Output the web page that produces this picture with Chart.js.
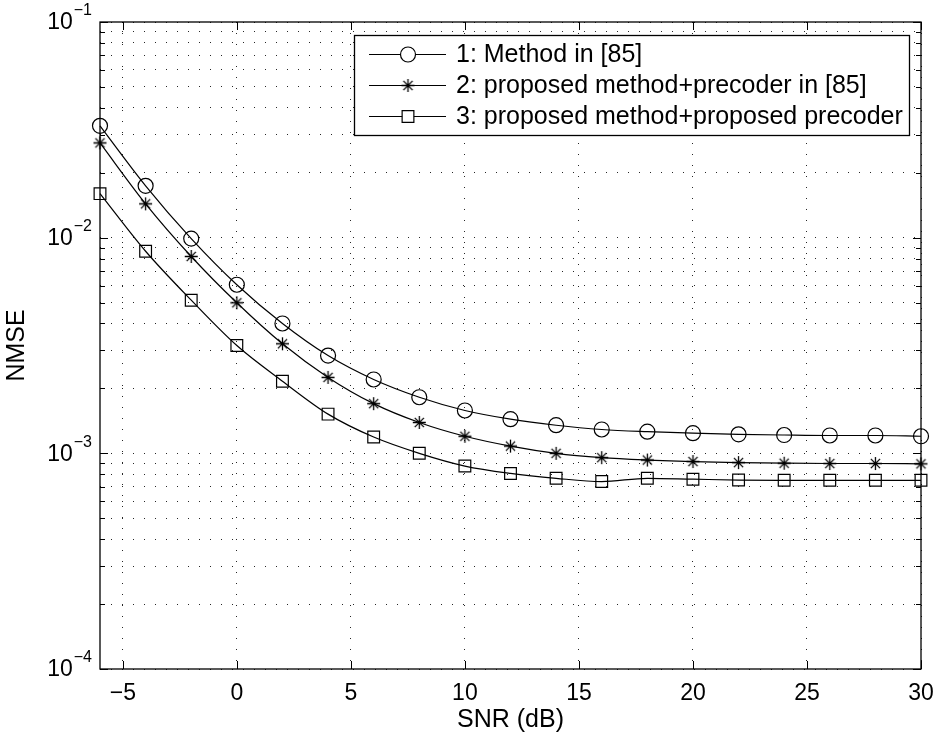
<!DOCTYPE html>
<html>
<head>
<meta charset="utf-8">
<script src="https://cdn.jsdelivr.net/npm/chart.js@4.4.1/dist/chart.umd.min.js"></script>
<style>
  body { margin: 0; background: #fff; }
  canvas { display: block; }
</style>
</head>
<body>
<canvas id="nmse-chart" width="939" height="737"></canvas>
<script>
// valores
const snr = [-6, -4, -2, 0, 2, 4, 6, 8, 10, 12, 14, 16, 18, 20, 22, 24, 26, 28, 30];
const method85 = [0.033, 0.0174, 0.0099, 0.00605, 0.0040, 0.00284, 0.0022, 0.00182, 0.00158, 0.00144,
  0.00135, 0.00129, 0.00126, 0.00124, 0.001225, 0.001216, 0.00121, 0.00121, 0.0012];
const proposedPrecoder85 = [0.0275, 0.01435, 0.00818, 0.00499, 0.00322, 0.00225, 0.0017, 0.00139, 0.0012, 0.00108,
  0.001, 0.000955, 0.000931, 0.000916, 0.000906, 0.0009, 0.000897, 0.000897, 0.000894];
const proposedProposed = [0.016, 0.00865, 0.00513, 0.00316, 0.00216, 0.00152, 0.00119, 0.001, 0.000873, 0.000807,
  0.000766, 0.00074, 0.000766, 0.000759, 0.000752, 0.00075, 0.00075, 0.00075, 0.00075];
const seriesLabels = ['1: Method in [85]', '2: proposed method+precoder in [85]', '3: proposed method+proposed precoder'];
const xTicks = [-5, 0, 5, 10, 15, 20, 25, 30];
const yDecades = [-4, -3, -2, -1];

const FONT = '"Liberation Sans", Arial, Helvetica, sans-serif';

// asterisco estilo MATLAB
function makeStar(r) {
  const c = document.createElement('canvas');
  const s = Math.ceil(r * 2 + 4);
  c.width = s; c.height = s;
  const g = c.getContext('2d');
  g.strokeStyle = '#000';
  g.lineWidth = 1.3;
  g.beginPath();
  for (let k = 0; k < 4; k++) {
    const a = k * Math.PI / 4;
    g.moveTo(s / 2 - Math.cos(a) * r, s / 2 - Math.sin(a) * r);
    g.lineTo(s / 2 + Math.cos(a) * r, s / 2 + Math.sin(a) * r);
  }
  g.stroke();
  return c;
}
const starImg = makeStar(6.5);

const markers = [
  { pointStyle: 'circle', radius: 7.5 },
  { pointStyle: starImg, radius: 7 },
  { pointStyle: 'rect', radius: 8.3 }
];

function dataset(i, values) {
  return {
    label: seriesLabels[i],
    data: snr.map((x, k) => ({ x: x, y: values[k] })),
    borderColor: '#000',
    borderWidth: 1.2,
    pointStyle: markers[i].pointStyle,
    pointRadius: markers[i].radius,
    pointBorderColor: '#000',
    pointBackgroundColor: 'rgba(0,0,0,0)',
    pointBorderWidth: 1.2,
    cubicInterpolationMode: 'monotone',
    clip: false
  };
}

const frame = {
  id: 'frame',
  afterDraw(chart) {
    const ctx = chart.ctx;
    const a = chart.chartArea;
    const xs = chart.scales.x, ys = chart.scales.y;
    ctx.save();
    ctx.strokeStyle = '#000';
    ctx.lineWidth = 1.3;
    ctx.strokeRect(a.left, a.top, a.right - a.left, a.bottom - a.top);

    // marcas para dentro
    ctx.lineWidth = 1;
    ctx.beginPath();
    xTicks.forEach(v => {
      const px = Math.round(xs.getPixelForValue(v)) + 0.5;
      ctx.moveTo(px, a.bottom); ctx.lineTo(px, a.bottom - 8);
      ctx.moveTo(px, a.top); ctx.lineTo(px, a.top + 8);
    });
    yDecades.forEach(e => {
      for (let m = 1; m <= 9; m++) {
        const v = m * Math.pow(10, e);
        if (v > 0.1 + 1e-12) continue;
        const py = Math.round(ys.getPixelForValue(v)) + 0.5;
        const len = m === 1 ? 8 : 5;
        ctx.moveTo(a.left, py); ctx.lineTo(a.left + len, py);
        ctx.moveTo(a.right, py); ctx.lineTo(a.right - len, py);
      }
    });
    ctx.stroke();

    // rótulos do eixo y com expoente
    ctx.fillStyle = '#000';
    yDecades.forEach(e => {
      const py = ys.getPixelForValue(Math.pow(10, e));
      const expTxt = '\u2212' + Math.abs(e);
      ctx.font = '16px ' + FONT;
      const wExp = ctx.measureText(expTxt).width;
      ctx.font = '23px ' + FONT;
      const wBase = ctx.measureText('10').width;
      const x0 = 92 - wExp - wBase - 1;
      ctx.textBaseline = 'middle';
      ctx.textAlign = 'left';
      ctx.fillText('10', x0, py + 1);
      ctx.font = '16px ' + FONT;
      ctx.fillText(expTxt, x0 + wBase + 1, py - 11);
    });

    // legenda
    const box = { left: 354.5, top: 35.5, right: 909.5, bottom: 135.5 };
    ctx.fillStyle = '#fff';
    ctx.fillRect(box.left, box.top, box.right - box.left, box.bottom - box.top);
    ctx.strokeStyle = '#000';
    ctx.lineWidth = 1.3;
    ctx.strokeRect(box.left, box.top, box.right - box.left, box.bottom - box.top);
    const rows = [54.5, 85.5, 116.5];
    rows.forEach((ry, i) => {
      ctx.lineWidth = 1.2;
      ctx.strokeStyle = '#000';
      ctx.beginPath();
      ctx.moveTo(369, ry); ctx.lineTo(446, ry);
      ctx.stroke();
      ctx.fillStyle = '#fff';
      Chart.helpers.drawPoint(ctx, {
        pointStyle: markers[i].pointStyle,
        radius: markers[i].radius,
        rotation: 0,
        borderWidth: 1.2
      }, 408, ry);
      ctx.fillStyle = '#000';
      ctx.font = '25px ' + FONT;
      ctx.textBaseline = 'middle';
      ctx.textAlign = 'left';
      ctx.fillText(seriesLabels[i], 456, ry + 1);
    });
    ctx.restore();
  }
};

new Chart(document.getElementById('nmse-chart'), {
  type: 'line',
  data: {
    datasets: [
      dataset(0, method85),
      dataset(1, proposedPrecoder85),
      dataset(2, proposedProposed)
    ]
  },
  options: {
    responsive: false,
    animation: false,
    devicePixelRatio: 1,
    layout: { padding: { top: 22, right: 18, left: 0, bottom: 0 } },
    plugins: { legend: { display: false }, tooltip: { enabled: false } },
    scales: {
      x: {
        type: 'linear',
        min: -6,
        max: 30,
        afterBuildTicks: scale => { scale.ticks = xTicks.map(v => ({ value: v })); },
        afterFit: scale => {
          scale.height = 68;
          scale.paddingLeft = 0;
          scale.paddingRight = 0;
        },
        grid: { color: 'rgba(0,0,0,0.85)', lineWidth: 1, drawTicks: false },
        border: { display: false, dash: [1, 10] },
        ticks: {
          color: '#000',
          padding: 11,
          maxRotation: 0,
          font: { family: FONT, size: 23 },
          callback: v => (v < 0 ? '\u2212' + Math.abs(v) : String(v))
        },
        title: {
          display: true,
          text: 'SNR (dB)',
          color: '#000',
          font: { family: FONT, size: 25 },
          padding: { top: 0, bottom: 2 }
        }
      },
      y: {
        type: 'logarithmic',
        min: 1e-4,
        max: 1e-1,
        afterBuildTicks: scale => {
          const t = [];
          yDecades.forEach(e => {
            for (let m = 1; m <= 9; m++) {
              const v = m * Math.pow(10, e);
              if (v <= 0.1 + 1e-12) t.push({ value: v });
            }
          });
          scale.ticks = t;
        },
        afterFit: scale => { scale.width = 100; },
        grid: { color: 'rgba(0,0,0,0.85)', lineWidth: 1, drawTicks: false },
        border: { display: false, dash: [1, 10] },
        ticks: { display: false },
        title: {
          display: true,
          text: 'NMSE',
          color: '#000',
          font: { family: FONT, size: 25 },
          padding: { top: 2, bottom: 0 }
        }
      }
    }
  },
  plugins: [frame]
});
</script>
</body>
</html>
